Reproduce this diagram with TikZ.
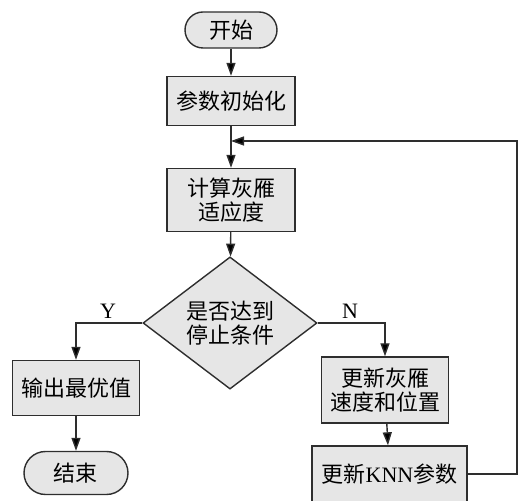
\documentclass[tikz,border=0pt]{standalone}
\usepackage{fontspec}
\setmainfont{Liberation Serif}
\newfontfamily\cjk{Noto Sans CJK SC}
\usetikzlibrary{shapes.geometric,arrows.meta}
\definecolor{boxfill}{HTML}{E6E6E6}
\definecolor{boxline}{HTML}{2E2E2E}

\tikzset{
  box/.style={draw=boxline, fill=boxfill, line width=0.7pt, inner sep=0pt,
    align=center, font=\cjk\fontsize{11pt}{12pt}\selectfont},
  term/.style={box, rounded corners=#1},
  judgebox/.style={box, diamond},
  arr/.style={draw=boxline, line width=0.7pt, -{Triangle[length=6.5pt,width=4.5pt,fill=black]}},
  lbl/.style={font=\fontsize{11pt}{12pt}\selectfont}
}

\begin{document}
\begin{tikzpicture}[x=0.5pt, y=-0.5pt]
  \useasboundingbox (0,0) rectangle (525,501);

  % main column
  \node[term=9pt, minimum width=46pt, minimum height=18pt] (start) at (231,30) {开始};
  \node[box, minimum width=64pt, minimum height=24.5pt] (init) at (231,101) {参数初始化};
  \node[box, minimum width=64pt, minimum height=31.5pt] (fit) at (231,200) {计算灰雁\\适应度};
  \node[judgebox, minimum width=87pt, minimum height=50pt] (judge) at (230,323) {是否达到\\停止条件};

  % left branch
  \node[box, minimum width=63.5pt, minimum height=27.5pt] (out) at (76,388) {输出最优值};
  \node[term=10.75pt, minimum width=52pt, minimum height=21.5pt] (end) at (76,473) {结束};

  % right branch
  \node[box, minimum width=63.5pt, minimum height=33pt] (upd) at (385,390) {更新灰雁\\速度和位置};
  \node[box, minimum width=77.5pt, minimum height=28pt] (knn) at (389.5,474) {更新{\rmfamily KNN}参数};

  \coordinate (merge) at (231,141);
  \coordinate (corner) at (517,141);

  \draw[arr] (start) -- (init);
  \draw[arr] (init) -- (fit);
  \draw[arr] (fit) -- (judge);
  \draw[arr] (judge.west) -| (out.north);
  \draw[arr] (judge.east) -| (upd.north);
  \draw[arr] (out) -- (end);
  \draw[arr] (upd) -- (knn);
  \draw[arr] (knn.east) -| (corner) -- (merge);

  \node[lbl] (yes) at (108,311) {Y};
  \node[lbl] (no) at (350,311) {N};
\end{tikzpicture}
\end{document}
